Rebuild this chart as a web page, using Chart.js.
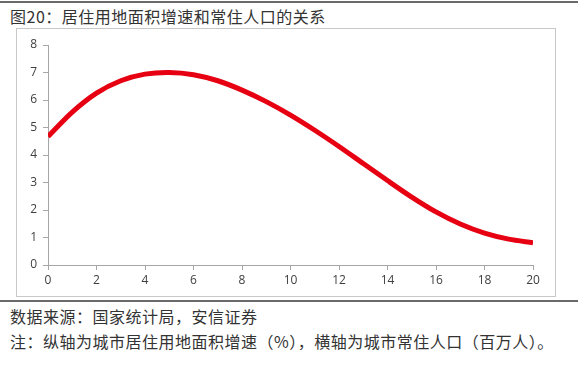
<!DOCTYPE html>
<html lang="zh">
<head>
<meta charset="UTF-8" />
<title>图20：居住用地面积增速和常住人口的关系</title>
<script src="https://cdn.jsdelivr.net/npm/chart.js"></script>
<style>
  html, body { margin: 0; padding: 0; background: #fff; }
  body { width: 578px; height: 366px; position: relative; overflow: hidden;
         font-family: "Noto Sans CJK SC", sans-serif; color: #333; }
  .rule { position: absolute; left: 0; width: 578px; background: #6a6a6a; }
  .txt { position: absolute; left: 10px; font-size: 16px; letter-spacing: 0.5px; line-height: 20px; white-space: nowrap; }
  /* chart box */
  .box { position: absolute; left: 16px; top: 28px; width: 540px; height: 269px;
         border: 1px solid #c8c8c8; box-sizing: border-box; }
  #popChart { position: absolute; left: 16px; top: 28px; }
</style>
</head>
<body>
  <div class="rule" style="top:1px;height:2px;"></div>
  <div class="txt" style="top:6px;">图20：居住用地面积增速和常住人口的关系</div>
  <div class="box"></div>
  <canvas id="popChart" width="541" height="270"></canvas>
  <div class="rule" style="top:300px;height:2px;"></div>
  <div class="txt" style="top:306px;">数据来源：国家统计局，安信证券</div>
  <div class="txt" style="top:331px;">注：纵轴为城市居住用地面积增速（%），横轴为城市常住人口（百万人）。</div>

<script>
  // 横轴：城市常住人口（百万人）
  const population = [0, 1, 2, 3, 4, 5, 6, 7, 8, 9, 10, 11, 12, 13, 14, 15, 16, 17, 18, 19, 20];
  // 纵轴：居住用地面积增速（%）
  const growth = [4.67, 5.56, 6.25, 6.70, 6.94, 7.00, 6.92, 6.70, 6.36, 5.94, 5.45, 4.90, 4.31, 3.69, 3.07, 2.47, 1.93, 1.49, 1.16, 0.94, 0.81];
  const xTicks = [0, 2, 4, 6, 8, 10, 12, 14, 16, 18, 20];
  const yTicks = [0, 1, 2, 3, 4, 5, 6, 7, 8];

  const points = population.map((x, i) => ({ x: x, y: growth[i] }));

  const tickFont = { family: "'Open Sans', 'Liberation Sans', sans-serif", size: 12 };

  new Chart(document.getElementById('popChart').getContext('2d'), {
    type: 'line',
    data: {
      datasets: [{
        data: points,
        borderColor: '#e60012',
        borderWidth: 5,
        pointRadius: 0,
        tension: 0.3,
        borderCapStyle: 'butt',
        fill: false
      }]
    },
    options: {
      responsive: false,
      animation: false,
      events: [],
      layout: { padding: { top: 17, right: 24, left: 0, bottom: 0 } },
      plugins: { legend: { display: false }, tooltip: { enabled: false } },
      scales: {
        x: {
          type: 'linear',
          min: 0, max: 20,
          afterBuildTicks: (s) => { s.ticks = xTicks.map(v => ({ value: v })); },
          afterFit: (s) => { s.height = 33; },
          grid: { display: true, drawOnChartArea: false, drawTicks: true, tickLength: 5, color: '#a6a6a6' },
          border: { color: '#a6a6a6', width: 1 },
          ticks: { color: '#404040', font: tickFont, padding: 3, maxRotation: 0 }
        },
        y: {
          min: 0, max: 8,
          afterBuildTicks: (s) => { s.ticks = yTicks.map(v => ({ value: v })); },
          afterFit: (s) => { s.width = 32; },
          grid: { display: true, drawOnChartArea: false, drawTicks: true, tickLength: 5, color: '#a6a6a6' },
          border: { color: '#a6a6a6', width: 1 },
          ticks: { color: '#404040', font: tickFont, padding: 6 }
        }
      }
    }
  });
</script>
</body>
</html>
